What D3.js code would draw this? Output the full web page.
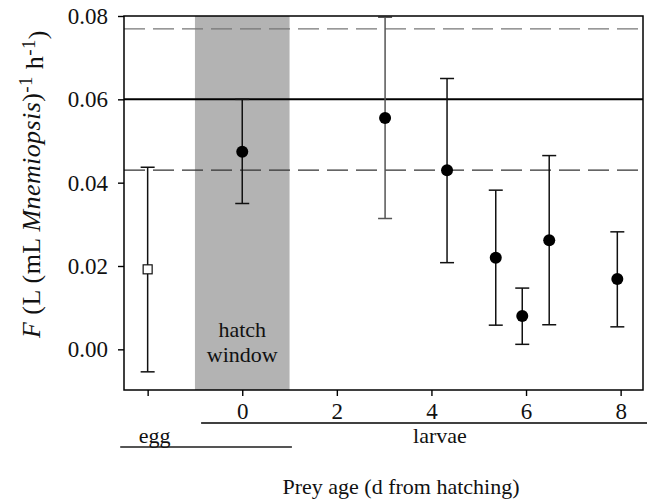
<!DOCTYPE html>
<html>
<head>
<meta charset="utf-8">
<script src="https://cdn.jsdelivr.net/npm/d3@7"></script>
<style>
  html, body { margin: 0; padding: 0; background: #fff; }
  svg { display: block; }
  text { font-family: "Liberation Serif", "Times New Roman", serif; fill: #111; }
</style>
</head>
<body>
<svg id="chart" width="647" height="501"></svg>
<script>
// ---- data ----
const xTickValues = [-2, 0, 2, 4, 6, 8];
const xTickLabels = ["", "0", "2", "4", "6", "8"];
const yTickValues = [0.00, 0.02, 0.04, 0.06, 0.08];

const eggAge = [-2];
const eggF = [0.0192];
const eggLo = [-0.0054];
const eggHi = [0.0437];

const larvaeAge = [0, 3.02, 4.33, 5.36, 5.92, 6.49, 7.93];
const larvaeF  = [0.0474, 0.0555, 0.0430, 0.0220, 0.0080, 0.0262, 0.0169];
const larvaeLo = [0.0350, 0.0314, 0.0208, 0.0058, 0.0012, 0.0059, 0.0054];
const larvaeHi = [0.0600, 0.0797, 0.0650, 0.0382, 0.0147, 0.0465, 0.0282];

const refSolid = 0.06;
const refDashed = [0.0769, 0.043];
const hatchWindow = [-1, 1];
const eggSpan = [-2.58, 1.05];
const larvaeSpan = [-0.87, 8.6];

// ---- layout ----
const svg = d3.select("#chart");
const pLeft = 124, pRight = 643, pTop = 16, pBottom = 390;
const x = d3.scaleLinear().domain([-2.5, 8.473]).range([pLeft, pRight]);
const y = d3.scaleLinear().domain([-0.00976, 0.08]).range([pBottom, pTop]);

// hatch window
svg.append("rect")
  .attr("x", x(hatchWindow[0])).attr("y", pTop)
  .attr("width", x(hatchWindow[1]) - x(hatchWindow[0]))
  .attr("height", pBottom - pTop)
  .attr("fill", "#b3b3b3");

// reference lines
svg.append("line")
  .attr("x1", pLeft).attr("x2", pRight)
  .attr("y1", y(refSolid)).attr("y2", y(refSolid))
  .attr("stroke", "#000").attr("stroke-width", 2);
const dashColors = ["#777", "#333"];
refDashed.forEach((v, i) => {
  svg.append("line")
    .attr("x1", pLeft).attr("x2", pRight)
    .attr("y1", y(v)).attr("y2", y(v))
    .attr("stroke", dashColors[i]).attr("stroke-width", 1.4)
    .attr("stroke-dasharray", "21,8");
});

// error bars
function errBars(ages, lo, hi, colorFn) {
  const g = svg.append("g");
  ages.forEach((a, i) => {
    const c = colorFn(i);
    g.append("line").attr("x1", x(a)).attr("x2", x(a))
      .attr("y1", y(lo[i])).attr("y2", y(hi[i]))
      .attr("stroke", c).attr("stroke-width", 1.5);
    [lo[i], hi[i]].forEach(v => {
      g.append("line").attr("x1", x(a) - 7).attr("x2", x(a) + 7)
        .attr("y1", y(v)).attr("y2", y(v))
        .attr("stroke", c).attr("stroke-width", 1.5);
    });
  });
}
errBars(eggAge, eggLo, eggHi, () => "#111");
errBars(larvaeAge, larvaeLo, larvaeHi, i => i === 1 ? "#555" : "#111");

// points
svg.append("g").selectAll("circle").data(larvaeAge).join("circle")
  .attr("cx", d => x(d)).attr("cy", (d, i) => y(larvaeF[i]))
  .attr("r", 6).attr("fill", "#000");
svg.append("g").selectAll("rect").data(eggAge).join("rect")
  .attr("x", d => x(d) - 4.5).attr("y", (d, i) => y(eggF[i]) - 4.5)
  .attr("width", 9).attr("height", 9)
  .attr("fill", "#fff").attr("stroke", "#111").attr("stroke-width", 1.2);

// hatch window label
svg.append("text").attr("x", x(0)).attr("y", 337).attr("text-anchor", "middle")
  .style("font-size", "22px").text("hatch");
svg.append("text").attr("x", x(0)).attr("y", 362).attr("text-anchor", "middle")
  .style("font-size", "22px").text("window");

// frame
svg.append("rect").attr("x", pLeft).attr("y", pTop)
  .attr("width", pRight - pLeft).attr("height", pBottom - pTop)
  .attr("fill", "none").attr("stroke", "#000").attr("stroke-width", 1.5);

// axes
const yAxis = svg.append("g").attr("transform", `translate(${pLeft},0)`)
  .call(d3.axisLeft(y).tickValues(yTickValues).tickFormat(d3.format(".2f"))
    .tickSize(6).tickPadding(10));
const xAxis = svg.append("g").attr("transform", `translate(0,${pBottom})`)
  .call(d3.axisBottom(x).tickValues(xTickValues).tickFormat((d, i) => xTickLabels[i])
    .tickSize(6).tickPadding(7));
[yAxis, xAxis].forEach(g => {
  g.select(".domain").remove();
  g.selectAll(".tick line").attr("stroke", "#000").attr("stroke-width", 1.4);
  g.selectAll(".tick text").attr("fill", "#111")
    .style("font-family", '"Liberation Serif", serif').style("font-size", "23px");
});

// stage lines
svg.append("line").attr("x1", x(larvaeSpan[0])).attr("x2", x(larvaeSpan[1]))
  .attr("y1", 423).attr("y2", 423).attr("stroke", "#000").attr("stroke-width", 1.5);
svg.append("line").attr("x1", x(eggSpan[0])).attr("x2", x(eggSpan[1]))
  .attr("y1", 447).attr("y2", 447).attr("stroke", "#555").attr("stroke-width", 2);
svg.append("text").attr("x", x(-1.85)).attr("y", 443).attr("text-anchor", "middle")
  .style("font-size", "22px").text("egg");
svg.append("text").attr("x", x(4.18)).attr("y", 443).attr("text-anchor", "middle")
  .style("font-size", "22px").text("larvae");

// axis titles
svg.append("text").attr("x", 401).attr("y", 494).attr("text-anchor", "middle")
  .style("font-size", "22px").text("Prey age (d from hatching)");

const yt = svg.append("text")
  .attr("transform", `translate(40,184) rotate(-90)`)
  .attr("text-anchor", "middle").style("font-size", "26px")
  .style("letter-spacing", "0.4px");
yt.append("tspan").style("font-style", "italic").text("F");
yt.append("tspan").text(" (L (mL ");
yt.append("tspan").style("font-style", "italic").text("Mnemiopsis");
yt.append("tspan").text(")");
yt.append("tspan").attr("dy", "-0.42em").style("font-size", "19px").text("-1");
yt.append("tspan").attr("dy", "0.42em").text(" h");
yt.append("tspan").attr("dy", "-0.42em").style("font-size", "19px").text("-1");
yt.append("tspan").attr("dy", "0.42em").text(")");
</script>
</body>
</html>
